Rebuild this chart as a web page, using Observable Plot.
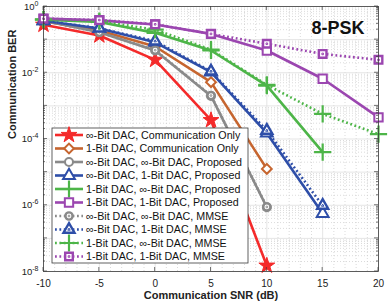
<!DOCTYPE html>
<html><head><meta charset="utf-8">
<script src="https://cdn.jsdelivr.net/npm/d3@7"></script>
<script src="https://cdn.jsdelivr.net/npm/@observablehq/plot@0.6"></script>
<style>
body{margin:0;background:#fff}
#chart svg{font-family:"Liberation Sans",Arial,Helvetica,sans-serif}
</style>
</head><body><div id="chart"></div>
<script>
// ---- data ----
const snr = [-10, -5, 0, 5, 10, 15, 20];
const xTicks = [-10, -5, 0, 5, 10, 15, 20];
const yTicks = [1, 1e-2, 1e-4, 1e-6, 1e-8];
const seriesNames = [
  "\u221e-Bit DAC, Communication Only",
  "1-Bit DAC, Communication Only",
  "\u221e-Bit DAC, \u221e-Bit DAC, Proposed",
  "\u221e-Bit DAC, 1-Bit DAC, Proposed",
  "1-Bit DAC, \u221e-Bit DAC, Proposed",
  "1-Bit DAC, 1-Bit DAC, Proposed",
  "\u221e-Bit DAC, \u221e-Bit DAC, MMSE",
  "\u221e-Bit DAC, 1-Bit DAC, MMSE",
  "1-Bit DAC, \u221e-Bit DAC, MMSE",
  "1-Bit DAC, 1-Bit DAC, MMSE"
];
const berInfComm    = [0.28, 0.133, 0.0245, 3.7e-4, 1.5e-8];
const ber1Comm      = [0.36, 0.19, 0.062, 5.2e-3, 1.25e-5];
const berInfInfProp = [0.37, 0.167, 0.047, 2.0e-3, 8.7e-7];
const berInf1Prop   = [0.37, 0.216, 0.083, 0.0104, 1.5e-4, 5.6e-7];
const ber1InfProp   = [0.40, 0.34, 0.16, 0.047, 4.1e-3, 4.0e-5];
const ber11Prop     = [0.43, 0.38, 0.286, 0.149, 0.047, 6.6e-3, 4.5e-4];
const berInfInfMMSE = [0.37, 0.167, 0.048, 2.05e-3, 8.9e-7];
const berInf1MMSE   = [0.37, 0.22, 0.09, 0.011, 1.8e-4, 9.8e-7];
const ber1InfMMSE   = [0.41, 0.36, 0.20, 0.05, 4.3e-3, 5.7e-4, 1.4e-4];
const ber11MMSE     = [0.43, 0.39, 0.29, 0.149, 0.075, 0.037, 0.0245];

// ---- styles ----
const C = {red:"#f42a2a", brown:"#c6652f", grey:"#8a8a8a", blue:"#2e4ea8", green:"#4db548", purple:"#9b46b0"};
const DOT = "1.8,2.6";
const styles = [
  {c:C.red, sym:"star", r:5, fill:C.red, sw:1},
  {c:C.brown, sym:"diamond2", r:4.4, fill:"white", sw:2},
  {c:C.grey, sym:"circle", r:4, fill:"white", sw:2},
  {c:C.blue, sym:"triangle", r:4.4, fill:"white", sw:2},
  {c:C.green, sym:"plus", r:5.6, fill:"none", sw:2.2},
  {c:C.purple, sym:"square", r:4.7, fill:"white", sw:2},
  {c:C.grey, sym:"circle", r:3.6, fill:"white", sw:2.4, dash:DOT, inner:true},
  {c:C.blue, sym:"triangle", r:4.1, fill:"white", sw:2.4, dash:DOT, inner:true},
  {c:C.green, sym:"plus", r:5.6, fill:"none", sw:2.2, dash:DOT},
  {c:C.purple, sym:"square", r:4.3, fill:"white", sw:2.4, dash:DOT, inner:true}
];
const allBer = [berInfComm, ber1Comm, berInfInfProp, berInf1Prop, ber1InfProp, ber11Prop,
                berInfInfMMSE, berInf1MMSE, ber1InfMMSE, ber11MMSE];
const series = allBer.map((arr, i) => arr.map((b, j) => ({name: seriesNames[i], snr: snr[j], ber: b})));

const xMinor = d3.range(-10, 21, 1).filter(d => d % 5 !== 0);
const yMinor = [];
for (let k = -8; k < 0; k++) for (let m = 2; m <= 9; m++) yMinor.push(m * Math.pow(10, k));
const yMajorAll = d3.range(-8, 1).map(k => Math.pow(10, k));

const marks = [
  Plot.ruleX(xMinor, {stroke:"#cccccc", strokeWidth:0.7, strokeDasharray:"1,2"}),
  Plot.ruleY(yMinor, {stroke:"#cccccc", strokeWidth:0.7, strokeDasharray:"1,2"}),
  Plot.ruleX(xTicks, {stroke:"#dedede", strokeWidth:0.8}),
  Plot.ruleY(yMajorAll, {stroke:"#dedede", strokeWidth:0.8})
];
series.forEach((data, i) => {
  const s = styles[i];
  marks.push(Plot.line(data, {x:"snr", y:"ber", stroke:s.c, strokeWidth:2.6,
    strokeDasharray: s.dash || undefined, strokeLinecap: s.dash ? "butt" : "round"}));
  marks.push(Plot.dot(data, {x:"snr", y:"ber", symbol: () => s.sym, r:s.r, stroke:s.c,
    fill:s.fill, strokeWidth:s.sw}));
  if (s.inner) marks.push(Plot.dot(data, {x:"snr", y:"ber", symbol: () => s.sym, r:0.9, stroke:s.c, fill:"none", strokeWidth:1}));
});
marks.push(
  Plot.frame({stroke:"#3a3a3a", strokeWidth:0.8}),
  Plot.axisX({ticks:xTicks, tickFormat: d => String(d), tickSize:0, tickPadding:8, fontSize:10, label:null}),
  Plot.axisY({ticks:yTicks, tickFormat: d => "10^" + Math.round(Math.log10(d)), tickSize:0, tickPadding:5, fontSize:9.5, label:null}),
  Plot.text(["Communication SNR (dB)"], {frameAnchor:"bottom", dy:27, fontWeight:"bold", fontSize:11, fill:"#222"}),
  Plot.text(["Communication BER"], {frameAnchor:"left", dx:-31, rotate:-90, fontWeight:"bold", fontSize:11, fill:"#222"}),
  Plot.text(["8-PSK"], {frameAnchor:"top-right", dx:-14, dy:15, fontWeight:"bold", fontSize:18, fill:"#111"})
);

const plot = Plot.plot({
  width:390, height:308,
  marginLeft:43, marginRight:12, marginTop:6, marginBottom:37,
  style:{background:"white", fontFamily:"Liberation Sans, Arial, sans-serif", color:"#222"},
  x:{domain:[-10, 20]},
  y:{type:"log", domain:[1e-8, 1]},
  marks
});
document.getElementById("chart").appendChild(plot);

// superscript exponents for y tick labels
d3.select(plot).selectAll("text").each(function() {
  const t = this.textContent;
  if (/^10\^-?\d+$/.test(t)) {
    const e = t.split("^")[1];
    const sel = d3.select(this);
    sel.text("");
    sel.append("tspan").text("10");
    sel.append("tspan").attr("dy", "-4").attr("font-size", "7").text(e);
  }
});

// inward ticks on the box
const sx = plot.scale("x"), sy = plot.scale("y");
const svg = d3.select(plot);
const tg = svg.append("g").attr("stroke", "#3a3a3a").attr("stroke-width", 0.7);
const xl = 43, xr = 378, yt = 6, yb = 271;
yMinor.concat(yMajorAll).forEach(v => {
  const y = sy.apply(v), len = yMajorAll.includes(v) ? 4 : 2;
  tg.append("line").attr("x1", xl).attr("x2", xl + len).attr("y1", y).attr("y2", y);
  tg.append("line").attr("x1", xr).attr("x2", xr - len).attr("y1", y).attr("y2", y);
});
xTicks.forEach(v => {
  const x = sx.apply(v);
  tg.append("line").attr("x1", x).attr("x2", x).attr("y1", yb).attr("y2", yb - 4);
  tg.append("line").attr("x1", x).attr("x2", x).attr("y1", yt).attr("y2", yt + 4);
});

// legend
const lg = svg.append("g").attr("text-anchor", "start");
const L = {x:52, y:128, w:196, h:135};
lg.append("rect").attr("x", L.x).attr("y", L.y).attr("width", L.w).attr("height", L.h)
  .attr("fill", "white").attr("stroke", "#3a3a3a").attr("stroke-width", 0.8);
const symMap = {star:d3.symbolStar, diamond2:d3.symbolDiamond2, circle:d3.symbolCircle,
  triangle:d3.symbolTriangle, plus:d3.symbolPlus, square:d3.symbolSquare};
seriesNames.forEach((name, i) => {
  const s = styles[i];
  const y = 135 + i * 13.5;
  lg.append("line").attr("x1", 55).attr("x2", 83).attr("y1", y).attr("y2", y)
    .attr("stroke", s.c).attr("stroke-width", 2.6).attr("stroke-dasharray", s.dash || null);
  lg.append("path").attr("transform", `translate(69,${y})`)
    .attr("d", d3.symbol(symMap[s.sym], Math.PI * s.r * s.r)())
    .attr("fill", s.fill).attr("stroke", s.c).attr("stroke-width", s.sw);
  if (s.inner) lg.append("path").attr("transform", `translate(69,${y})`)
    .attr("d", d3.symbol(symMap[s.sym], Math.PI * 0.81)()).attr("fill", "none").attr("stroke", s.c).attr("stroke-width", 1);
  lg.append("text").attr("x", 86).attr("y", y).attr("dy", "0.35em")
    .attr("font-size", 10.7).attr("fill", "#111").text(name);
});
</script>
</body></html>
